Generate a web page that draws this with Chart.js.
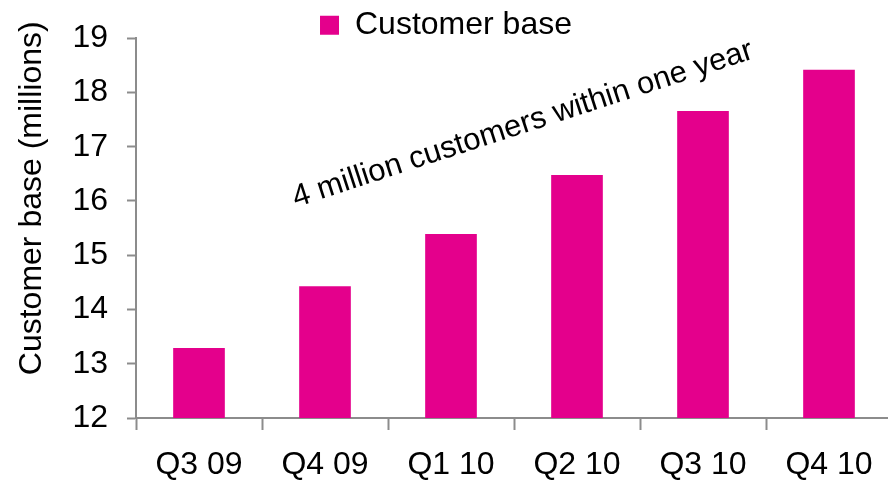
<!DOCTYPE html>
<html>
<head>
<meta charset="utf-8">
<script src="https://cdn.jsdelivr.net/npm/chart.js@4/dist/chart.umd.min.js"></script>
<style>
  html, body { margin: 0; padding: 0; background: #fff; overflow: hidden; }
  #wrap { width: 892px; height: 483px; }
</style>
</head>
<body>
<div id="wrap"><canvas id="chart" width="892" height="483"></canvas></div>
<script>
const quarters = ['Q3 09', 'Q4 09', 'Q1 10', 'Q2 10', 'Q3 10', 'Q4 10'];
const customerBase = [13.29, 14.43, 15.39, 16.48, 17.66, 18.42]; // millions
const yTicks = [12, 13, 14, 15, 16, 17, 18, 19];

const seriesName = 'Customer base';
const yTitle = 'Customer base (millions)';
const yTitleAt = 16.05; // millions, middle of the axis title
const note = '4 million customers within one year';
const noteAt = [2.59, 17.26]; // category index, millions

const MAGENTA = '#e4008c';
const AXIS = '#8c8c8c';
const FONT = 'Arial, "Liberation Sans", sans-serif';

// slanted note above the bars + the y axis title
const textPlugin = {
    id: 'textos',
    afterDatasetsDraw(chart) {
        const { ctx, scales } = chart;
        ctx.save();
        ctx.fillStyle = '#000';

        ctx.font = '31px ' + FONT;
        ctx.translate(scales.x.getPixelForValue(noteAt[0]), scales.y.getPixelForValue(noteAt[1]));
        ctx.rotate(-18 * Math.PI / 180);
        ctx.textAlign = 'center';
        ctx.textBaseline = 'alphabetic';
        ctx.fillText(note, 0, 0);
        ctx.restore();

        ctx.save();
        ctx.fillStyle = '#000';
        ctx.font = '32px ' + FONT;
        ctx.translate(41, scales.y.getPixelForValue(yTitleAt));
        ctx.rotate(-Math.PI / 2);
        ctx.textAlign = 'center';
        ctx.textBaseline = 'alphabetic';
        ctx.fillText(yTitle, 0, 0);
        ctx.restore();
    }
};

new Chart(document.getElementById('chart'), {
    type: 'bar',
    data: {
        labels: quarters,
        datasets: [{
            label: seriesName,
            data: customerBase,
            backgroundColor: MAGENTA,
            borderWidth: 0,
            barPercentage: 0.41,
            categoryPercentage: 1
        }]
    },
    options: {
        responsive: false,
        animation: false,
        layout: { padding: 0 },
        plugins: {
            tooltip: { enabled: false },
            legend: {
                position: 'top',
                maxHeight: 35,
                labels: {
                    boxWidth: 19,
                    boxHeight: 19,
                    padding: 6,
                    color: '#000',
                    font: { family: FONT, size: 32 }
                }
            }
        },
        scales: {
            x: {
                offset: true,
                border: { display: true, color: AXIS, width: 2 },
                grid: {
                    offset: true,
                    drawOnChartArea: false,
                    drawTicks: true,
                    tickLength: 12,
                    tickWidth: 2,
                    tickColor: AXIS
                },
                ticks: {
                    color: '#000',
                    padding: 16,
                    maxRotation: 0,
                    font: { family: FONT, size: 32 }
                },
                afterFit(scale) { scale.height = 65; }
            },
            y: {
                min: 12,
                max: 19,
                border: { display: true, color: AXIS, width: 2 },
                grid: {
                    drawOnChartArea: false,
                    drawTicks: true,
                    tickLength: 9,
                    tickWidth: 2,
                    tickColor: AXIS
                },
                afterBuildTicks(scale) {
                    scale.ticks = yTicks.map(v => ({ value: v }));
                },
                ticks: {
                    color: '#000',
                    padding: 19,
                    font: { family: FONT, size: 32 }
                },
                afterFit(scale) { scale.width = 136; }
            }
        }
    },
    plugins: [textPlugin]
});
</script>
</body>
</html>
